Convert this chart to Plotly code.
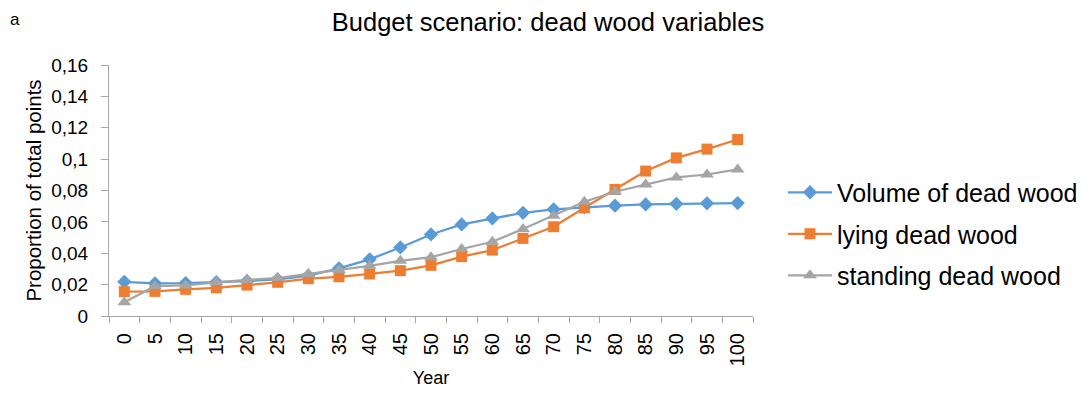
import plotly.graph_objects as go

years = [str(y) for y in range(0, 101, 5)]
volume = [0.0218, 0.0208, 0.021, 0.0215, 0.0223, 0.0234, 0.0257, 0.0304, 0.0361, 0.0437, 0.052,
          0.0584, 0.0622, 0.0658, 0.068, 0.0692, 0.0703, 0.0711, 0.0715, 0.0718, 0.072]
lying = [0.0155, 0.0157, 0.017, 0.018, 0.0197, 0.0215, 0.0238, 0.025, 0.0268, 0.0289, 0.0323,
         0.0378, 0.042, 0.0495, 0.0569, 0.069, 0.0807, 0.0924, 0.1008, 0.1064, 0.1125]
standing = [0.0087, 0.019, 0.0195, 0.0215, 0.023, 0.0242, 0.0268, 0.0293, 0.032, 0.0352, 0.0375,
            0.0427, 0.0473, 0.0554, 0.0639, 0.0728, 0.0792, 0.0839, 0.0883, 0.0902, 0.0934]
ytick_vals = [0, 0.02, 0.04, 0.06, 0.08, 0.1, 0.12, 0.14, 0.16]
ytick_text = ["0", "0,02", "0,04", "0,06", "0,08", "0,1", "0,12", "0,14", "0,16"]

font = "Liberation Sans, Arial, sans-serif"
W, H = 1084, 392
L, R, T, B = 101, 339, 57, 84
PW, PH = W - L - R, H - T - B

fig = go.Figure()
fig.add_trace(go.Scatter(x=years, y=volume, name="Volume of dead wood", mode="lines+markers",
                         legendgroup="a",
                         line=dict(color="#5B9BD5", width=2.25),
                         marker=dict(symbol="diamond", size=11, color="#5B9BD5")))
fig.add_trace(go.Scatter(x=years, y=lying, name="lying dead wood", mode="lines+markers",
                         legendgroup="b",
                         line=dict(color="#ED7D31", width=2.25),
                         marker=dict(symbol="square", size=11, color="#ED7D31")))
fig.add_trace(go.Scatter(x=years, y=standing, name="standing dead wood", mode="lines+markers",
                         legendgroup="c",
                         line=dict(color="#A5A5A5", width=2.25),
                         marker=dict(symbol="triangle-up", size=12, color="#A5A5A5")))

fig.update_layout(
    width=W, height=H,
    margin=dict(l=L, r=R, t=T, b=B, autoexpand=False),
    paper_bgcolor="white", plot_bgcolor="white",
    font=dict(family=font, color="#000000"),
    title=dict(text="Budget scenario: dead wood variables", x=540 / W, xanchor="center",
               y=1 - 14 / H, yanchor="middle", font=dict(size=25.5, family=font)),
    showlegend=True,
    legend=dict(x=(775 - L) / PW, y=(308 - 226) / PH, xanchor="left", yanchor="middle",
                font=dict(size=25, family=font), traceorder="grouped", tracegroupgap=6,
                itemwidth=44, bgcolor="rgba(0,0,0,0)"),
    xaxis=dict(type="category", range=[-0.5, 20.5], showgrid=False,
               showline=True, linecolor="#A6A6A6", linewidth=1,
               ticks="outside", tickson="boundaries", ticklen=6, tickcolor="#A6A6A6",
               tickangle=-90, tickfont=dict(size=20, family=font), ticklabelstandoff=8,
               title=dict(text="Year", font=dict(size=18, family=font), standoff=6)),
    yaxis=dict(range=[0, 0.16], showgrid=False, zeroline=False,
               showline=True, linecolor="#A6A6A6", linewidth=1,
               ticks="outside", ticklen=7, tickcolor="#A6A6A6", ticklabelstandoff=9,
               tickvals=ytick_vals, ticktext=ytick_text, tickfont=dict(size=19, family=font),
               title=dict(text="Proportion of total points", font=dict(size=20.5, family=font), standoff=4)),
)
fig.add_annotation(text="a", x=(0 - L) / PW, y=1 + T / PH, xref="paper", yref="paper",
                   xanchor="left", yanchor="top", showarrow=False,
                   font=dict(size=17, family=font))
fig.write_html("out.html")
